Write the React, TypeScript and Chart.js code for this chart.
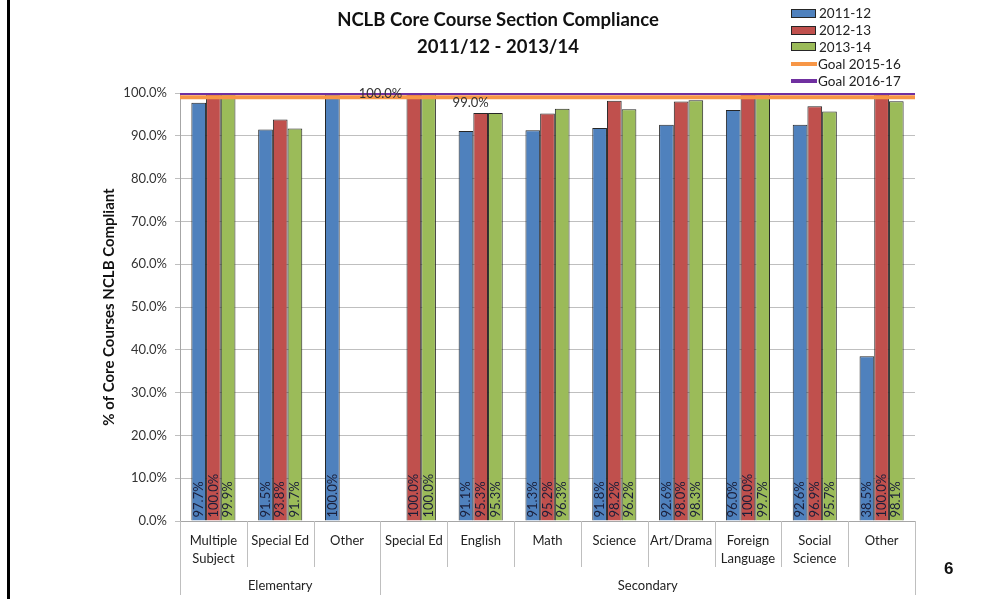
import React, { useEffect, useRef } from "react";
import { Chart, registerables } from "chart.js";

Chart.register(...registerables);

const categories: (string | string[])[] = [
  ["Multiple", "Subject"],
  "Special Ed",
  "Other",
  "Special Ed",
  "English",
  "Math",
  "Science",
  "Art/Drama",
  ["Foreign", "Language"],
  ["Social", "Science"],
  "Other",
];
const groupNames = ["Elementary", "Secondary"];
const groupSizes = [3, 8];

const seriesNames = ["2011-12", "2012-13", "2013-14"];
const values2011 = [97.7, 91.5, 100.0, null, 91.1, 91.3, 91.8, 92.6, 96.0, 92.6, 38.5];
const values2012 = [100.0, 93.8, null, 100.0, 95.3, 95.2, 98.2, 98.0, 100.0, 96.9, 100.0];
const values2013 = [99.9, 91.7, null, 100.0, 95.3, 96.3, 96.2, 98.3, 99.7, 95.7, 98.1];

const goalNames = ["Goal 2015-16", "Goal 2016-17"];
const goalValues = [99, 100];
// position (in category units) of each goal's value label
const goalLabelAt = [3.85, 2.5];

const yMin = 0;
const yMax = 100;
const yStep = 10;

const barColors = ["#4F81BD", "#C0504D", "#9BBB59"];
const goalColors = ["#F79646", "#7030A0"];
const FONT = "Lato, 'Open Sans', sans-serif";

const xMin = -0.5;
const xMax = categories.length - 0.5;

const barLabelPlugin = {
  id: "barLabels",
  afterDatasetsDraw(chart: any) {
    const ctx = chart.ctx;
    chart.data.datasets.forEach((ds: any, i: number) => {
      const meta = chart.getDatasetMeta(i);
      if (ds.type === "line") {
        const gi = ds.goalIndex;
        const x = chart.scales.x.getPixelForValue(goalLabelAt[gi]);
        const y = chart.scales.y.getPixelForValue(goalValues[gi]) + (gi === 0 ? 6 : 1);
        ctx.save();
        ctx.font = `13px ${FONT}`;
        ctx.fillStyle = "#333";
        ctx.textAlign = "center";
        ctx.textBaseline = "middle";
        ctx.fillText(goalValues[gi].toFixed(1) + "%", x, y);
        ctx.restore();
        return;
      }
      meta.data.forEach((el: any, j: number) => {
        const v = ds.data[j].y;
        if (v == null) return;
        const p = el.getProps(["x", "base"], true);
        ctx.save();
        ctx.translate(p.x, p.base - 3);
        ctx.rotate(-Math.PI / 2);
        ctx.font = `13px ${FONT}`;
        ctx.fillStyle = "#1b1f3a";
        ctx.textAlign = "left";
        ctx.textBaseline = "middle";
        ctx.fillText(v.toFixed(1) + "%", 0, 0);
        ctx.restore();
      });
    });
  },
};

const groupAxisPlugin = {
  id: "groupAxis",
  afterDraw(chart: any) {
    const ctx = chart.ctx;
    const xs = chart.scales.x;
    const n = categories.length;
    const groupBounds = new Set<number>([0]);
    let acc = 0;
    groupSizes.forEach((s) => {
      acc += s;
      groupBounds.add(acc);
    });
    ctx.save();
    ctx.strokeStyle = "#BFBFBF";
    ctx.lineWidth = 1;
    for (let i = 0; i <= n; i++) {
      const bx = Math.round(xs.getPixelForValue(i - 0.5)) + 0.5;
      ctx.beginPath();
      ctx.moveTo(bx, xs.top);
      ctx.lineTo(bx, groupBounds.has(i) ? xs.bottom - 4 : xs.top + 46);
      ctx.stroke();
    }
    ctx.font = `13px ${FONT}`;
    ctx.fillStyle = "#222";
    ctx.textAlign = "center";
    ctx.textBaseline = "middle";
    let s0 = 0;
    groupNames.forEach((g, gi) => {
      const s1 = s0 + groupSizes[gi];
      const cx = xs.getPixelForValue((s0 + s1) / 2 - 0.5);
      ctx.fillText(g, cx, xs.top + 65);
      s0 = s1;
    });
    ctx.restore();
  },
};

export default function App() {
  const ref = useRef<HTMLCanvasElement | null>(null);

  useEffect(() => {
    if (!ref.current) return;
    Chart.defaults.font.family = FONT;
    const barSets = [values2011, values2012, values2013].map((vals, i) => ({
      type: "bar" as const,
      label: seriesNames[i],
      data: vals.map((v, k) => ({ x: k, y: v })),
      backgroundColor: barColors[i],
      borderColor: "#262626",
      borderWidth: 1,
      categoryPercentage: 0.66,
      barPercentage: 1.0,
      order: 2,
    }));
    const lineSets = goalValues.map((v, gi) => ({
      type: "line" as const,
      label: goalNames[gi],
      goalIndex: gi,
      data: [
        { x: xMin, y: v },
        { x: xMax, y: v },
      ],
      borderColor: goalColors[gi],
      borderWidth: 4,
      pointRadius: 0,
      fill: false,
      order: 1 - gi,
    }));
    const chart = new Chart(ref.current, {
      type: "bar",
      data: {
        datasets: [...barSets, ...lineSets] as any,
      },
      options: {
        animation: false,
        responsive: false,
        layout: { padding: { top: 93, right: 88, left: 0, bottom: 0 } },
        plugins: {
          legend: { display: false },
          title: { display: false },
          tooltip: { enabled: false },
        },
        scales: {
          x: {
            type: "linear",
            min: xMin,
            max: xMax,
            offset: false,
            grid: { display: false, offset: false },
            border: { display: true, color: "#A6A6A6" },
            afterBuildTicks: (s: any) => {
              s.ticks = categories.map((_, k) => ({ value: k }));
            },
            ticks: {
              autoSkip: false,
              maxRotation: 0,
              minRotation: 0,
              padding: 3,
              color: "#222",
              font: { size: 13, lineHeight: 1.4 },
              callback: (v: any) => categories[Math.round(Number(v))] ?? "",
            },
            afterFit: (s: any) => {
              s.height = 78;
            },
          },
          y: {
            min: yMin,
            max: yMax,
            grid: { color: "#BFBFBF", tickLength: 5 },
            border: { display: true, color: "#A6A6A6" },
            ticks: {
              stepSize: yStep,
              padding: 8,
              color: "#333",
              font: { size: 13 },
              callback: (v: any) => Number(v).toFixed(1) + "%",
            },
            title: {
              display: true,
              text: "% of Core Courses NCLB Compliant",
              color: "#111",
              font: { size: 15, weight: "bold" },
              padding: { top: 100, bottom: 0 },
            },
            afterFit: (s: any) => {
              s.width = 180;
            },
          },
        },
      } as any,
      plugins: [barLabelPlugin, groupAxisPlugin],
    });
    return () => chart.destroy();
  }, []);

  const legendItems = [
    ...seriesNames.map((n, i) => ({ name: n, color: barColors[i], kind: "box" })),
    ...goalNames.map((n, i) => ({ name: n, color: goalColors[i], kind: "line" })),
  ];

  return (
    <div style={{ position: "absolute", left: 0, top: 0, width: 1003, height: 599, background: "#fff", overflow: "hidden", fontFamily: FONT }}>
      <canvas ref={ref} width={1003} height={599} style={{ position: "absolute", left: 0, top: 0, width: 1003, height: 599 }} />
      <div style={{ position: "absolute", left: 7, top: 0, width: 3, height: 599, background: "#000" }} />
      <div style={{ position: "absolute", left: 0, top: 6, width: 996, textAlign: "center", fontWeight: "bold", fontSize: 18.5, lineHeight: "27px", color: "#111" }}>
        <div>NCLB Core Course Section Compliance</div>
        <div>2011/12 - 2013/14</div>
      </div>
      <div style={{ position: "absolute", left: 791, top: 5 }}>
        {legendItems.map((it) => (
          <div key={it.name} style={{ display: "flex", alignItems: "center", height: 16.8, fontSize: 13.5, color: "#222" }}>
            {it.kind === "box" ? (
              <span style={{ display: "inline-block", width: 23, height: 7, background: it.color, border: "1px solid #262626", marginRight: 3 }} />
            ) : (
              <span style={{ display: "inline-block", width: 26, height: 4, background: it.color, marginRight: 1 }} />
            )}
            <span>{it.name}</span>
          </div>
        ))}
      </div>
      <div style={{ position: "absolute", left: 944, top: 559, fontFamily: "'Liberation Sans', Arial, sans-serif", fontWeight: "bold", fontSize: 17, color: "#111" }}>6</div>
    </div>
  );
}
